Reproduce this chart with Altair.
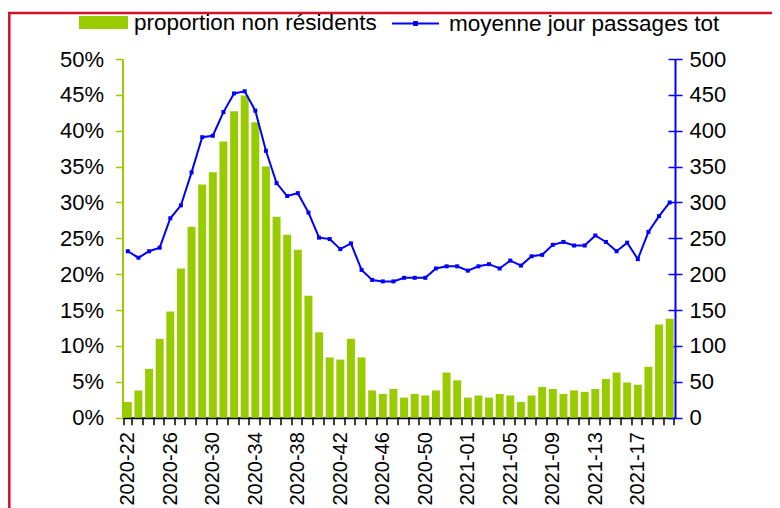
import altair as alt
import pandas as pd

weeks = [f"2020-{w:02d}" for w in range(22, 54)] + [f"2021-{w:02d}" for w in range(1, 21)]
shown_labels = weeks[::4]

proportion = [2.2, 3.8, 6.8, 11.0, 14.8, 20.8, 26.6, 32.5, 34.2, 38.5,
              42.7, 44.9, 41.2, 35.0, 28.0, 25.5, 23.4, 17.0, 11.9, 8.4,
              8.1, 11.0, 8.4, 3.8, 3.3, 4.0, 2.8, 3.3, 3.1, 3.8,
              6.3, 5.2, 2.8, 3.1, 2.8, 3.3, 3.1, 2.2, 3.1, 4.3,
              4.0, 3.3, 3.8, 3.6, 4.0, 5.4, 6.3, 4.9, 4.6, 7.1,
              13.0, 13.8]
passages = [232, 223, 232, 237, 278, 296, 342, 391, 393, 426,
            452, 455, 428, 372, 327, 309, 313, 286, 251, 249,
            235, 243, 206, 192, 190, 190, 195, 195, 195, 208,
            211, 211, 205, 211, 214, 208, 219, 212, 225, 227,
            241, 245, 240, 240, 254, 245, 232, 244, 221, 259,
            281, 300]

left_ticks = list(range(0, 51, 5))
right_ticks = list(range(0, 501, 50))

bar_name = "proportion non résidents"
line_name = "moyenne jour passages tot"

df = pd.DataFrame({"semaine": weeks, "prop": proportion, "pass": passages})
df["s_bar"] = bar_name
df["s_line"] = line_name

GREEN = "#99CC00"
BLUE = "#0000FF"
RED = "#D0122C"
FONT = "Liberation Sans"
FS = 22

label_list = ",".join(f"'{w}'" for w in shown_labels)
x_enc = alt.X(
    "semaine:N", sort=weeks, title=None,
    scale=alt.Scale(paddingInner=0.25, paddingOuter=0.125),
    axis=alt.Axis(
        labelAngle=270, labelExpr=f"indexof([{label_list}], datum.value) >= 0 ? datum.value : ''",
        tickBand="extent", domainColor="black", domainWidth=2, tickColor="black",
        tickWidth=1.5, tickSize=7, labelPadding=7, labelFontSize=20, labelFont=FONT,
        labelColor="black", grid=False, labelOverlap=False, labelLimit=300,
    ),
)

bars = alt.Chart(df).mark_bar(color=GREEN).encode(
    x=x_enc,
    y=alt.Y("prop:Q", title=None,
            scale=alt.Scale(domain=[0, 50], nice=False, zero=True),
            axis=alt.Axis(orient="left", values=left_ticks, labelExpr="datum.value + '%'",
                          domainColor=GREEN, domainWidth=2, tickColor=GREEN, tickWidth=1.5,
                          tickSize=7, labelPadding=12, labelFontSize=FS, labelFont=FONT,
                          labelColor="black", grid=False)),
    fill=alt.Fill("s_bar:N", scale=alt.Scale(domain=[bar_name], range=[GREEN]),
                  legend=alt.Legend(title=None, orient="none", legendX=-43.5, legendY=-61,
                                    symbolType="M-1,-0.265H1V0.265H-1Z", symbolSize=2401,
                                    symbolStrokeWidth=0, symbolOpacity=1, padding=0,
                                    labelFontSize=22.5, labelFont=FONT, labelColor="black",
                                    labelOffset=6, labelLimit=400)),
)

y_right = alt.Y("pass:Q", title=None,
                scale=alt.Scale(domain=[0, 500], nice=False, zero=True),
                axis=alt.Axis(orient="right", values=right_ticks, domainColor=BLUE, domainWidth=2,
                              tickColor=BLUE, tickWidth=1.5, tickSize=7, labelPadding=7,
                              labelFontSize=FS, labelFont=FONT, labelColor="black", grid=False))

line = alt.Chart(df).mark_line(strokeWidth=2).encode(
    x=x_enc, y=y_right,
    stroke=alt.Stroke("s_line:N", scale=alt.Scale(domain=[line_name], range=[BLUE]),
                      legend=alt.Legend(title=None, orient="none", legendX=268.5, legendY=-60,
                                        symbolType="M-1,0H1M-0.06,-0.06H0.06V0.06H-0.06Z",
                                        symbolSize=2209, symbolStrokeWidth=2, padding=0,
                                        labelFontSize=22.5, labelFont=FONT, labelColor="black",
                                        labelOffset=9, labelLimit=400)),
)
points = alt.Chart(df).mark_point(shape="square", filled=True, size=16, color=BLUE, opacity=1).encode(
    x=x_enc, y=y_right)

right = alt.layer(line, points)

inner = alt.Chart(df).mark_point(opacity=0).encode(
    x=x_enc,
    y=alt.Y("pass:Q", title=None,
            scale=alt.Scale(domain=[0, 500], nice=False, zero=True),
            axis=alt.Axis(orient="right", offset=-7, values=right_ticks, domain=False, labels=False,
                          tickColor=BLUE, tickWidth=1.5, tickSize=7, grid=False)),
)

one = pd.DataFrame({"k": [0]})
top_rule = alt.Chart(one).mark_rule(color=RED, strokeWidth=2.5).encode(
    x=alt.value(-114.5), x2=alt.value(650), y=alt.value(-46))
left_rule = alt.Chart(one).mark_rule(color=RED, strokeWidth=2.5).encode(
    x=alt.value(-113.2), y=alt.value(-47), y2=alt.value(460))

chart = alt.layer(bars, right, inner, top_rule, left_rule).resolve_scale(
    y="independent"
).properties(
    width=552.5, height=358.7,
    autosize=alt.AutoSizeParams(type="none"),
    padding={"left": 114.5, "top": 51, "right": 97, "bottom": 90.3},
    background="white",
).configure_view(stroke=None)

chart.save("out.html", embed_options={"renderer": "svg", "actions": False})
